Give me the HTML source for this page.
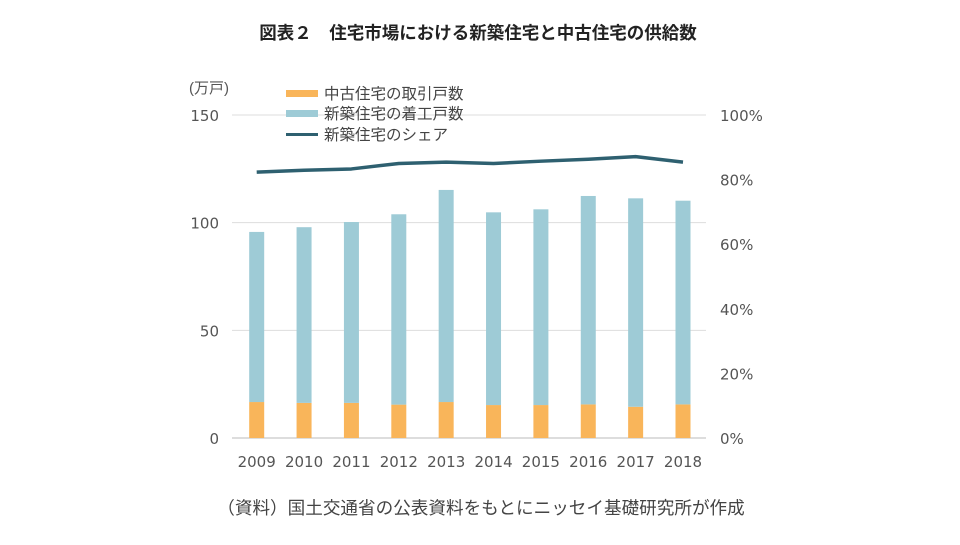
<!DOCTYPE html>
<html><head><meta charset="utf-8"><style>
body{margin:0;background:#fff;}
svg text{font-family:"DejaVu Sans","Noto Sans CJK JP",sans-serif;}
svg text.cjk{font-family:"Liberation Sans","Noto Sans CJK JP",sans-serif;}
</style></head><body>
<svg width="960" height="540" viewBox="0 0 960 540">
<text class="cjk" x="478" y="39" text-anchor="middle" font-size="17.5" font-weight="bold" fill="#222">図表２　住宅市場における新築住宅と中古住宅の供給数</text>
<text class="cjk" x="189" y="93" font-size="15" fill="#555">(万戸)</text>
<g id="grid"></g><g id="bars"></g><g id="line"></g><g id="axes"></g>
<g>
<rect x="286" y="90" width="32" height="7" fill="#f9b55a"/>
<text class="cjk" x="324" y="99" font-size="15.5" fill="#444">中古住宅の取引戸数</text>
<rect x="286" y="110" width="32" height="7" fill="#9ecbd6"/>
<text class="cjk" x="324" y="119" font-size="15.5" fill="#444">新築住宅の着工戸数</text>
<rect x="286" y="133" width="32" height="3" fill="#2e6070"/>
<text class="cjk" x="324" y="140" font-size="15.5" fill="#444">新築住宅のシェア</text>
</g>
<text class="cjk" x="481" y="514" text-anchor="middle" font-size="17.6" fill="#444">（資料）国土交通省の公表資料をもとにニッセイ基礎研究所が作成</text>
</svg>
<script>
const years=["2009","2010","2011","2012","2013","2014","2015","2016","2017","2018"];
const usedHomes=[16.7,16.3,16.3,15.5,16.7,15.3,15.3,15.6,14.5,15.6];
const newHomes=[79.0,81.6,84.0,88.4,98.5,89.5,90.9,96.8,96.8,94.6];
const newShare=[82.3,82.9,83.3,85.0,85.4,85.0,85.7,86.3,87.1,85.4];
const leftTicks=[0,50,100,150];
const rightTicks=[0,20,40,60,80,100];
const NS="http://www.w3.org/2000/svg";
const y0=438,yTop=115,leftMax=150;
const yL=v=>y0-(y0-yTop)*v/leftMax;
const yR=v=>y0-(y0-yTop)*v/100;
const xC=i=>256.7+i*(683-256.7)/(years.length-1);
function mk(t,a,p){const e=document.createElementNS(NS,t);for(const k in a)e.setAttribute(k,a[k]);p.appendChild(e);return e;}
const grid=document.getElementById('grid'),bars=document.getElementById('bars'),line=document.getElementById('line'),axes=document.getElementById('axes');
leftTicks.forEach(v=>{
 const l=mk('line',{x1:232,x2:706,y1:yL(v),y2:yL(v),stroke:v===0?'#bbb':'#ddd','stroke-width':1},grid);
 
 
 const t=mk('text',{x:219,y:yL(v)+6,'text-anchor':'end','font-size':15,fill:'#555'},axes);
 t.textContent=v;
 
 
});
rightTicks.forEach(v=>{
 const t=mk('text',{x:720,y:yR(v)+6,'font-size':15,fill:'#555'},axes);
 t.textContent=v+'%';
 
 
});
const bw=15;
years.forEach((yr,i)=>{
 const x=xC(i)-bw/2;
 const r1=mk('rect',{x:x,y:yL(usedHomes[i]),width:bw,height:y0-yL(usedHomes[i]),fill:'#f9b55a'},bars);
 
 
 const top=usedHomes[i]+newHomes[i];
 const r2=mk('rect',{x:x,y:yL(top),width:bw,height:yL(usedHomes[i])-yL(top),fill:'#9ecbd6'},bars);
 
 
 const t=mk('text',{x:xC(i),y:467,'text-anchor':'middle','font-size':15,fill:'#555'},axes);
 t.textContent=yr;
 
 
});
const pl=mk('polyline',{points:newShare.map((v,i)=>xC(i)+','+yR(v)).join(' '),fill:'none',stroke:'#2e6070','stroke-width':3.5,'stroke-linejoin':'round'},line);


</script>
</body></html>
